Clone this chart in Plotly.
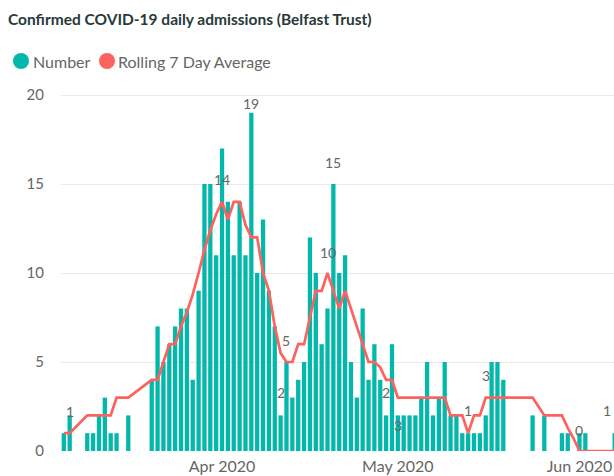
import pandas as pd
import plotly.graph_objects as go

# Daily confirmed admissions, one value per day from 5 March 2020
start_date = "2020-03-05"
number = [
    1, 2, 0, 0, 1, 1, 2, 3, 1, 1, 0, 2, 0, 0, 0,
    4, 7, 5, 6, 7, 8, 8, 4, 9,
    15, 15, 11, 17, 14, 11, 14, 11, 19, 10, 13,
    9, 7, 2, 5, 3, 4, 5, 12, 10, 6, 8, 15, 10, 11,
    5, 3, 8, 4, 6, 4, 2, 6, 2, 2, 2, 2,
    3, 5, 2, 3, 5, 2, 2, 1, 1, 1, 1, 2, 5, 5, 4,
    0, 0, 0, 0, 2, 0, 2, 0, 0, 1, 1, 0, 1, 1, 0, 0, 0, 0, 1,
]
# Rolling 7 day average (None where no value is reported)
rolling = [
    1, 1, None, None, 2, 2, 2, 2, 2, 3, None, 3, None, None, None,
    4, 4, 5, 6, 6, 7, 7.8, 8.8, 10,
    11.3, 12.4, 13.3, 14, 13, 14, 14, 12.7, 12, 12, 10,
    9, 7, 5.5, 5, 5, 6, 6, 7.5, 9, 9, 10, 9, 8, 9,
    8, 7, 6, 5, 5, 4.7, 4, 4, 3, 3, 3, 3,
    3, 3, 3, 3, 3, 2, 2, 2, 1, 2, 2, 3, 3, 3, 3,
    3, 3, 3, 3, 3, 2.5, 2, 2, 2, 2, 1.3, 0.7, 0, 0, 0, 0, 0, 0, 0,
]
y_ticks = [0, 5, 10, 15, 20]
x_tick_format = "%b %Y"

# Data labels shown on the chart: (series, day index, vertical offset in px)
labels = [
    ("line", 1, 22), ("line", 27, 22), ("bar", 32, 9), ("bar", 37, 23),
    ("line", 38, 22), ("line", 45, 21), ("bar", 46, 22), ("bar", 55, 23),
    ("line", 57, -28), ("line", 69, 23), ("line", 72, 22), ("line", 88, 21),
]

TEAL = "#01B8AA"
RED = "#FD625E"
TEXT_GREY = "#666666"
FONT = "Lato, 'Segoe UI', sans-serif"

dates = pd.date_range(start_date, periods=len(number), freq="D")
d0 = dates[0]

fig = go.Figure()
fig.add_trace(go.Bar(
    x=dates, y=number, name="Number", marker_color=TEAL,
    marker_line_width=0, showlegend=False,
))
fig.add_trace(go.Scatter(
    x=dates, y=rolling, name="Rolling 7 Day Average", mode="lines",
    line=dict(color=RED, width=2.7), connectgaps=True, showlegend=False,
))

annotations = []
for series, i, shift in labels:
    val = number[i] if series == "bar" else rolling[i]
    annotations.append(dict(
        x=dates[i], y=val, xref="x", yref="y", text=f"{val:g}",
        showarrow=False, yshift=shift, yanchor="middle",
        font=dict(family=FONT, size=14, color=TEXT_GREY),
    ))
# label for the last (partly visible) bar, kept inside the plot
annotations.append(dict(
    x=dates[-2], y=number[-1], xref="x", yref="y", text=f"{number[-1]:g}",
    showarrow=False, yshift=23, xshift=-2, yanchor="middle",
    font=dict(family=FONT, size=14, color=TEXT_GREY),
))

# legend: coloured dots followed by series names
W, H = 614, 476
ml, mt, mb = 61, 90, 25
pw, ph = W - ml, H - mt - mb


def px_x(x):
    return (x - ml) / pw


def px_y(y):
    return 1 - (y - mt) / ph


legend_items = [("Number", TEAL, 21, 31), ("Rolling 7 Day Average", RED, 107, 116)]
shapes = []
for name, color, cx, tx in legend_items:
    shapes.append(dict(
        type="circle", xref="paper", yref="paper",
        xsizemode="pixel", ysizemode="pixel",
        xanchor=px_x(cx), yanchor=px_y(61),
        x0=-8, x1=8, y0=-8, y1=8,
        fillcolor=color, line_width=0,
    ))
    annotations.append(dict(
        x=px_x(tx), y=px_y(61), xref="paper", yref="paper", text=name,
        showarrow=False, xanchor="left", yanchor="middle",
        font=dict(family=FONT, size=16, color=TEXT_GREY),
    ))

fig.update_layout(
    width=W, height=H,
    margin=dict(l=ml, r=0, t=mt, b=mb, pad=0),
    paper_bgcolor="white", plot_bgcolor="white",
    bargap=0.27,
    title=dict(
        text="Confirmed COVID-19 daily admissions (Belfast Trust)",
        x=8 / W, xanchor="left", xref="container",
        y=1 - 20 / H, yanchor="middle", yref="container",
        font=dict(family=FONT, size=15.5, color="#28393a", weight=700),
    ),
    annotations=annotations,
    shapes=shapes,
    showlegend=False,
)
fig.update_xaxes(
    type="date",
    range=[d0 - pd.Timedelta(hours=11.5), d0 + pd.Timedelta(hours=93.89 * 24)],
    dtick="M1", tick0="2020-03-01", tickformat=x_tick_format,
    showgrid=False, zeroline=False, showline=False, ticks="",
    ticklabelstandoff=4,
    tickfont=dict(family=FONT, size=16, color=TEXT_GREY),
)
fig.update_yaxes(
    range=[0, ph / 17.8], tickvals=y_ticks,
    showgrid=True, gridcolor="#EAEAEA", gridwidth=1,
    zeroline=False, showline=False, ticks="",
    ticklabelstandoff=16,
    tickfont=dict(family=FONT, size=15, color=TEXT_GREY),
)

fig.write_html("out.html")
